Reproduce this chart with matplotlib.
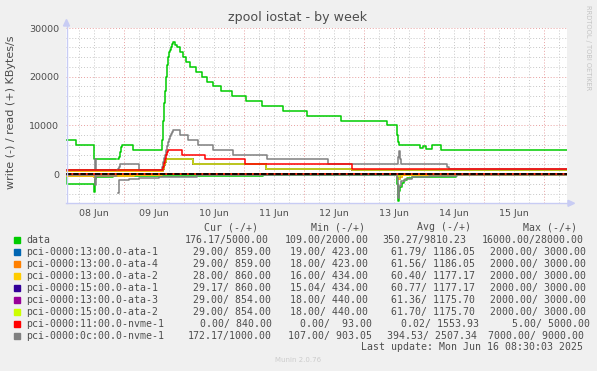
import numpy as np
import matplotlib
matplotlib.use('Agg')
import matplotlib.pyplot as plt
from matplotlib.lines import Line2D
from matplotlib.patches import Rectangle, Polygon

W, H = 597, 371
nan = np.nan

# time axis: hours since 08 Jun 00:00
day_ticks = [12, 36, 60, 84, 108, 132, 156, 180]
day_labels = ['08 Jun', '09 Jun', '10 Jun', '11 Jun', '12 Jun', '13 Jun', '14 Jun', '15 Jun']

# data (read / write)
data_read_t = [0.8, 4.8, 12.0, 20.8, 21.6, 22.0, 22.4, 22.8, 23.2, 27.6, 39.2, 39.6, 40.0, 40.4, 40.8,
               41.2, 41.6, 42.0, 42.4, 42.8, 43.2, 43.6, 44.4, 45.2, 46.4, 47.6, 48.8, 50.4, 52.8, 55.2,
               57.2, 59.6, 62.8, 67.2, 72.8, 79.2, 87.6, 97.2, 110.8, 129.2, 133.2, 133.6, 134.0, 142.4,
               143.6, 144.8, 147.2, 150.8, 201.2]
data_read_v = [7000, 6000, 3000, nan, 3000, 3500, 4500, 5500, 6000, 5000, 7000, 11000, 14500, 17000, 20000,
               22500, 24000, 25000, 25500, 26000, 26800, 27200, 26500, 26000, 25000, 24000, 23000, 22000,
               21000, 20000, 19000, 18000, 17000, 16000, 15000, 14000, 13000, 12000, 11000, 10000, 8000,
               6500, 6000, 5300, 5800, 5100, 6000, 5000, 5000]
data_write_t = [0.8, 1.2, 12.0, 12.4, 12.8, 16.0, 19.6, 20.8, 21.6, 28.0, 79.6, 133.2, 133.6, 134.0,
                134.4, 135.2, 136.0, 137.2, 139.2, 156.8, 201.2]
data_write_v = [-300, -2000, -3600, -1000, -600, -500, -300, nan, -400, -300, -100, -2000, -5500, -3500,
                -2600, -1800, -1200, -800, -550, -176, -176]

# sata disks: two groups that follow nearly the same pattern
ata_read_t = [0.8, 20.8, 21.6, 39.6, 40.0, 40.4, 40.8, 51.6, 80.8, 115.2, 201.2]
ata_a_read_v = [600, nan, 600, 1000, 1800, 2500, 3000, 2000, 1000, 860, 860]
ata_b_read_v = [850, nan, 850, 1000, 1800, 2500, 3000, 2000, 1000, 855, 855]
ata_a_write_t = [0.8, 12.0, 12.4, 20.8, 21.6, 28.0, 39.2, 133.2, 133.6, 134.4, 135.2, 201.2]
ata_a_write_v = [-350, -700, -400, nan, -350, -200, -40, -300, -1000, -500, -100, -29]
ata_b_write_t = [0.8, 20.8, 21.6, 133.6, 134.4, 201.2]
ata_b_write_v = [-30, nan, -30, -500, -30, -29]

# nvme 11:00
nvme11_read_t = [0.8, 20.8, 21.6, 39.6, 40.0, 40.4, 40.8, 41.2, 41.6, 47.2, 56.4, 72.4, 115.2, 201.2]
nvme11_read_v = [900, nan, 900, 1500, 2300, 3200, 4000, 4600, 4900, 4000, 3000, 2000, 950, 950]
nvme11_write_t = [0.8, 201.2]
nvme11_write_v = [0, 0]

# nvme 0c:00
nvme0c_read_t = [0.8, 12.4, 12.8, 20.8, 21.6, 22.0, 22.4, 30.0, 39.2, 39.6, 40.0, 40.4, 40.8, 41.2, 41.6,
                 42.0, 42.4, 42.8, 43.2, 43.6, 46.4, 49.6, 53.6, 59.6, 67.6, 81.2, 105.6, 133.6, 134.0,
                 134.4, 134.8, 153.2, 154.0, 201.2]
nvme0c_read_v = [900, 3200, 900, nan, 1000, 1500, 2000, 900, 1500, 2500, 3300, 4000, 5000, 5800, 6500,
                 7200, 7800, 8300, 8700, 9000, 8000, 7000, 6000, 5000, 4000, 3000, 2000, 3500, 4700,
                 3000, 2000, 1500, 1000, 1000]
nvme0c_write_t = [0.8, 12.4, 12.8, 20.8, 21.6, 22.0, 26.0, 30.0, 34.0, 38.0, 41.2, 53.2, 133.2, 133.6,
                  134.0, 134.8, 136.4, 139.2, 142.4, 146.0, 157.2, 201.2]
nvme0c_write_v = [-100, -2300, -300, nan, -3900, -1200, -1000, -900, -800, -700, -650, -150, -800, -4900,
                  -2500, -1500, -1100, -700, -550, -450, -172, -172]

labels = ['data', 'pci-0000:13:00.0-ata-1', 'pci-0000:13:00.0-ata-4', 'pci-0000:13:00.0-ata-2',
          'pci-0000:15:00.0-ata-1', 'pci-0000:13:00.0-ata-3', 'pci-0000:15:00.0-ata-2',
          'pci-0000:11:00.0-nvme-1', 'pci-0000:0c:00.0-nvme-1']
colors = ['#00CC00', '#0066B3', '#FF8000', '#FFCC00', '#330099', '#990099', '#CCFF00', '#FF0000', '#808080']
cur_vals = ['176.17/5000.00', '29.00/ 859.00', '29.00/ 859.00', '28.00/ 860.00', '29.17/ 860.00',
            '29.00/ 854.00', '29.00/ 854.00', '0.00/ 840.00', '172.17/1000.00']
min_vals = ['109.00/2000.00', '19.00/ 423.00', '18.00/ 423.00', '16.00/ 434.00', '15.04/ 434.00',
            '18.00/ 440.00', '18.00/ 440.00', '0.00/  93.00', '107.00/ 903.05']
avg_vals = ['350.27/9810.23', '61.79/ 1186.05', '61.56/ 1186.05', '60.40/ 1177.17', '60.77/ 1177.17',
            '61.36/ 1175.70', '61.70/ 1175.70', '0.02/ 1553.93', '394.53/ 2507.34']
max_vals = ['16000.00/28000.00', '2000.00/ 3000.00', '2000.00/ 3000.00', '2000.00/ 3000.00',
            '2000.00/ 3000.00', '2000.00/ 3000.00', '2000.00/ 3000.00', '5.00/ 5000.00', '7000.00/ 9000.00']

series = [
    (data_read_t, data_read_v, data_write_t, data_write_v),
    (ata_read_t, ata_a_read_v, ata_a_write_t, ata_a_write_v),
    (ata_read_t, ata_a_read_v, ata_a_write_t, ata_a_write_v),
    (ata_read_t, ata_a_read_v, ata_a_write_t, ata_a_write_v),
    (ata_read_t, ata_b_read_v, ata_b_write_t, ata_b_write_v),
    (ata_read_t, ata_b_read_v, ata_b_write_t, ata_b_write_v),
    (ata_read_t, ata_b_read_v, ata_b_write_t, ata_b_write_v),
    (nvme11_read_t, nvme11_read_v, nvme11_write_t, nvme11_write_v),
    (nvme0c_read_t, nvme0c_read_v, nvme0c_write_t, nvme0c_write_v),
]


def fx(px):
    return px / W


def fy(py):
    return 1 - py / H


txt = '#4d4d4d'
fig = plt.figure(figsize=(W / 100, H / 100), dpi=100, facecolor='#f0f0f0')
ax = fig.add_axes([fx(66), fy(203.3), fx(567) - fx(66), fy(28) - fy(203.3)])
ax.set_facecolor('white')
ax.set_xlim(0.8, 201.2)
ax.set_ylim(-6000, 30000)
for s in ax.spines.values():
    s.set_visible(False)

# grid
for h in np.arange(6, 201, 6):
    if h % 24 == 0:
        ax.axvline(h, color='#e8a0a0', lw=0.7, ls=(0, (1, 2)), zorder=1)
    else:
        ax.axvline(h, color='#c8c8c8', lw=0.7, ls=(0, (1, 2)), zorder=1)
for v in np.arange(-6000, 30001, 2000):
    if v % 10000 == 0:
        ax.axhline(v, color='#e8a0a0', lw=0.7, ls=(0, (1, 2)), zorder=1)
    else:
        ax.axhline(v, color='#c8c8c8', lw=0.7, ls=(0, (1, 2)), zorder=1)

# lines
zorders = [3, 4, 4, 4, 4, 4, 4, 6, 5]
for (rt, rv, wt, wv), c, z in zip(series, colors, zorders):
    ax.plot(rt, rv, color=c, lw=1.1, drawstyle='steps-post', zorder=z)
    ax.plot(wt, wv, color=c, lw=1.1, drawstyle='steps-post', zorder=z)
ax.axhline(0, color='black', lw=1.3, ls=(0, (3, 1)), zorder=8)

ax.set_xticks(day_ticks)
ax.set_xticklabels(day_labels)
ax.set_yticks([0, 10000, 20000, 30000])
ax.set_yticklabels(['0', '10000', '20000', '30000'])
ax.tick_params(axis='both', length=0, labelsize=6.8, colors=txt)
ax.tick_params(axis='y', pad=4.8)
ax.tick_params(axis='x', pad=4.0)

# axis lines with arrows
axc = '#c8ccf4'
fig.add_artist(Line2D([fx(66.5), fx(66.5)], [fy(203.3), fy(24)], color=axc, lw=1.0))
fig.add_artist(Line2D([fx(66), fx(570)], [fy(203.3), fy(203.3)], color=axc, lw=1.0))
fig.add_artist(Polygon([[fx(63.5), fy(26)], [fx(69.5), fy(26)], [fx(66.5), fy(19.5)]], closed=True,
                       color=axc, transform=fig.transFigure))
fig.add_artist(Polygon([[fx(568), fy(200.3)], [fx(568), fy(206.3)], [fx(574.5), fy(203.3)]], closed=True,
                       color=axc, transform=fig.transFigure))

fig.text(fx(298), fy(18), 'zpool iostat - by week', ha='center', va='center', fontsize=9.1, color=txt)
fig.text(fx(11), fy(112), 'write (-) / read (+) KBytes/s', rotation=90, ha='center', va='center',
         fontsize=8.0, color=txt)
fig.text(fx(588), fy(5), 'RRDTOOL / TOBI OETIKER', rotation=270, ha='center', va='top',
         fontsize=4.8, color='#c4c4c4')

# legend
mono = 'DejaVu Sans Mono'
fs = 7.1
head_y = 227.3
for x, s in zip([204.3, 311, 417, 523], ['Cur (-/+)', 'Min (-/+)', 'Avg (-/+)', 'Max (-/+)']):
    fig.text(fx(x), fy(head_y), s, family=mono, fontsize=fs, color=txt, ha='left', va='center')

col_x = [[184.3, 284.3, 382, 481.7]] + [[193.3, 290.5, 391, 490]] * 6 + \
        [[200.3, 299.5, 401, 512], [187.7, 287.5, 387.3, 487.6]]
for i, lab in enumerate(labels):
    y = 239.7 + 12 * i
    fig.add_artist(Rectangle((fx(14), fy(y + 3)), 6 / W, 6 / H, color=colors[i], transform=fig.transFigure))
    fig.text(fx(26.3), fy(y), lab, family=mono, fontsize=fs, color=txt, ha='left', va='center')
    for x, s in zip(col_x[i], [cur_vals[i], min_vals[i], avg_vals[i], max_vals[i]]):
        fig.text(fx(x), fy(y), s, family=mono, fontsize=fs, color=txt, ha='left', va='center')

fig.text(fx(583), fy(347.3), 'Last update: Mon Jun 16 08:30:03 2025', family=mono, fontsize=fs,
         color=txt, ha='right', va='center')
fig.text(fx(298), fy(360), 'Munin 2.0.76', fontsize=5.0, color='#cccccc', ha='center', va='center')

fig.savefig('out.png', dpi=100, facecolor=fig.get_facecolor())
